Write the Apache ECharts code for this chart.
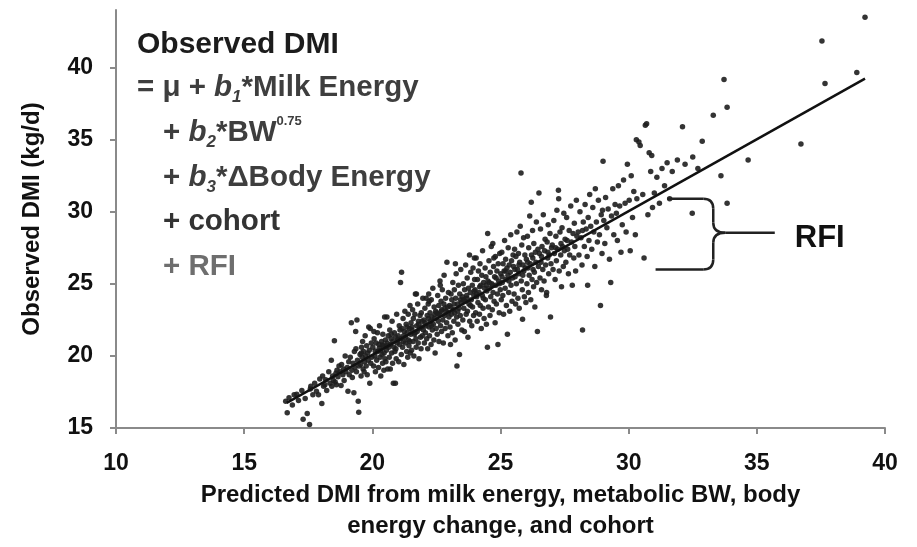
<!DOCTYPE html>
<html>
<head>
<meta charset="utf-8">
<script src="https://cdn.jsdelivr.net/npm/echarts@6/dist/echarts.min.js"></script>
<style>
html,body{margin:0;padding:0;background:#fff;}
#chart{width:917px;height:547px;}
</style>
</head>
<body>
<div id="chart"></div>
<script>
// ---- Data ----
const xTicks = [10, 15, 20, 25, 30, 35, 40];
const yTicks = [15, 20, 25, 30, 35, 40];
const xAxisTitle = 'Predicted DMI from milk energy, metabolic BW, body\nenergy change, and cohort';
const yAxisTitle = 'Observed DMI (kg/d)';
// Regression line end points [predicted, observed]
const fitLine = [[16.66, 16.74], [39.22, 39.24]];
// Each cow: [predicted DMI, observed DMI]
const cowPoints = [
[16.62,16.85],[16.68,16.05],[16.75,17.1],[16.88,16.6],[16.95,17.3],
[17.05,17.35],[17.12,16.9],[17.25,17.6],[17.3,15.6],[17.38,17.05],[17.46,16.0],
[17.55,15.25],[17.6,17.9],[17.68,17.3],[17.75,18.1],[17.82,17.55],[17.9,17.3],[17.95,18.4],[17.58,17.7],
[18.03,16.7],[18.06,18.6],[18.1,17.9],[18.18,18.35],[18.22,17.6],[18.3,18.9],[18.35,18.1],[18.4,19.7],[18.42,17.9],[18.45,18.6],[18.48,18.3],[18.15,18.0],
[18.52,21.05],[18.55,18.2],[18.6,18.0],[18.62,19.0],[18.66,18.55],[18.7,19.3],[18.74,18.9],[18.78,17.95],[18.8,19.4],[18.85,18.7],[18.88,19.1],[18.9,18.3],[18.94,20.0],[18.97,18.9],[18.58,18.8],
[19.02,19.2],[19.05,17.55],[19.08,19.6],[19.1,18.7],[19.14,19.9],[19.18,22.3],[19.2,19.0],[19.22,18.5],[19.25,19.5],[19.28,17.45],[19.3,20.3],[19.32,19.2],[19.35,21.7],[19.36,20.5],[19.38,18.9],[19.4,22.5],[19.42,19.7],[19.45,16.85],[19.47,16.1],[19.48,19.3],
[19.52,20.1],[19.54,19.4],[19.56,18.6],[19.58,20.6],[19.6,19.9],[19.62,21.0],[19.64,19.1],[19.66,20.3],[19.68,18.9],[19.7,19.6],[19.72,21.4],[19.74,20.0],[19.76,19.3],[19.78,20.7],[19.8,18.7],[19.82,20.2],[19.84,19.7],[19.86,22.0],[19.88,20.4],[19.9,18.1],[19.92,21.9],[19.94,19.5],[19.96,20.9],[19.98,19.9],[19.57,20.2],
[20.02,20.6],[20.05,19.3],[20.07,21.2],[20.1,20.0],[20.12,18.9],[20.15,20.9],[20.17,19.7],[20.2,21.6],[20.21,20.3],[20.24,19.2],[20.26,20.8],[20.28,22.1],[20.3,19.9],[20.32,20.4],[20.33,18.6],[20.36,21.0],[20.38,20.1],[20.4,19.5],[20.41,21.5],[20.43,20.7],[20.45,19.0],[20.46,20.2],[20.48,22.7],[20.49,19.8],[20.11,20.35],[20.27,20.55],[20.39,20.75],[20.06,21.7],
[20.51,21.1],[20.53,19.6],[20.55,20.4],[20.57,22.7],[20.58,20.9],[20.6,19.1],[20.62,21.4],[20.64,20.6],[20.66,19.9],[20.68,21.8],[20.7,19.1],[20.71,20.8],[20.73,21.2],[20.75,20.2],[20.77,22.4],[20.79,19.5],[20.8,21.0],[20.82,18.1],[20.84,20.6],[20.86,21.6],[20.88,20.3],[20.9,18.1],[20.91,21.3],[20.93,19.8],[20.95,22.9],[20.97,20.9],[20.99,21.1],[20.56,20.7],[20.74,21.5],[20.92,20.5],
[21.01,21.4],[21.03,19.6],[21.05,22.1],[21.07,20.8],[21.1,25.1],[21.11,21.2],[21.13,20.1],[21.14,25.8],[21.16,21.9],[21.18,20.6],[21.2,22.6],[21.21,21.0],[21.23,19.4],[21.25,21.7],[21.27,23.1],[21.29,20.9],[21.3,21.3],[21.32,22.2],[21.34,20.3],[21.36,21.6],[21.38,19.9],[21.4,22.9],[21.41,21.1],[21.43,20.7],[21.45,21.9],[21.47,23.5],[21.48,20.2],[21.5,21.5],[21.08,21.8],[21.22,21.4],[21.35,22.0],[21.46,21.0],
[21.51,22.3],[21.53,20.4],[21.55,21.8],[21.57,23.2],[21.59,21.0],[21.6,22.6],[21.62,20.0],[21.64,21.5],[21.66,22.9],[21.68,24.3],[21.7,21.2],[21.71,20.6],[21.73,22.1],[21.75,21.7],[21.77,23.6],[21.79,20.9],[21.8,22.4],[21.82,19.8],[21.84,21.9],[21.86,22.8],[21.88,21.3],[21.9,20.5],[21.91,23.0],[21.93,22.0],[21.95,21.4],[21.97,24.0],[21.99,21.8],[21.54,22.0],[21.67,21.6],[21.81,22.2],[21.94,22.4],[21.72,24.3],
[22.01,22.5],[22.03,20.9],[22.05,23.3],[22.07,21.6],[22.09,22.1],[22.1,24.0],[22.12,21.2],[22.14,22.8],[22.16,20.5],[22.18,23.6],[22.2,24.3],[22.21,22.0],[22.23,21.4],[22.25,23.0],[22.27,22.4],[22.29,20.8],[22.3,23.9],[22.32,22.7],[22.34,21.8],[22.36,24.7],[22.38,22.2],[22.4,21.1],[22.41,23.4],[22.43,22.6],[22.45,20.2],[22.47,23.1],[22.49,21.9],[22.06,22.3],[22.19,22.6],[22.31,22.1],[22.44,22.9],[22.22,23.8],
[22.51,23.0],[22.53,21.5],[22.55,24.2],[22.57,22.4],[22.59,23.5],[22.6,21.0],[22.62,22.9],[22.64,25.2],[22.66,22.1],[22.68,23.8],[22.7,21.7],[22.71,23.2],[22.73,24.6],[22.75,22.5],[22.77,20.9],[22.79,23.6],[22.8,25.6],[22.82,22.8],[22.84,21.9],[22.86,24.0],[22.88,23.1],[22.9,22.3],[22.91,26.5],[22.93,23.4],[22.95,21.4],[22.97,24.4],[22.99,22.7],[22.56,22.9],[22.69,23.1],[22.83,23.3],[22.96,23.0],[22.65,24.9],
[23.01,23.5],[23.03,22.0],[23.05,20.8],[23.07,24.3],[23.09,22.9],[23.1,23.9],[23.12,21.6],[23.14,25.1],[23.16,23.2],[23.18,22.4],[23.2,24.6],[23.21,23.0],[23.23,21.1],[23.25,24.0],[23.27,25.7],[23.29,22.7],[23.3,19.3],[23.32,23.6],[23.34,22.2],[23.36,24.9],[23.38,23.3],[23.4,20.1],[23.41,24.3],[23.43,22.8],[23.45,26.0],[23.47,23.7],[23.49,21.8],[23.06,23.4],[23.19,23.6],[23.33,23.1],[23.44,23.9],[23.24,26.4],
[23.51,24.1],[23.53,22.5],[23.55,25.0],[23.57,23.3],[23.59,21.7],[23.6,24.6],[23.62,23.8],[23.64,26.3],[23.66,22.9],[23.68,24.2],[23.7,25.4],[23.71,23.1],[23.73,21.3],[23.75,24.7],[23.77,23.6],[23.79,27.0],[23.8,22.4],[23.82,24.4],[23.84,25.8],[23.86,23.9],[23.88,22.1],[23.9,24.9],[23.91,23.4],[23.93,26.1],[23.95,22.8],[23.97,24.5],[23.99,25.3],[23.56,23.9],[23.69,24.0],[23.83,23.5],[23.96,24.2],[23.98,26.8],
[24.01,24.6],[24.03,23.0],[24.05,26.8],[24.07,24.1],[24.09,22.4],[24.1,25.3],[24.12,23.7],[24.14,25.9],[24.16,24.4],[24.18,22.9],[24.2,26.4],[24.21,23.5],[24.23,24.9],[24.25,21.9],[24.27,25.6],[24.29,24.2],[24.3,27.3],[24.32,23.3],[24.34,25.1],[24.36,22.6],[24.38,24.7],[24.4,26.1],[24.41,23.9],[24.43,25.5],[24.45,22.2],[24.47,24.5],[24.49,20.6],[24.06,24.3],[24.19,24.8],[24.33,24.0],[24.44,24.9],[24.5,28.5],
[24.51,25.2],[24.53,23.4],[24.55,26.6],[24.57,24.7],[24.59,22.8],[24.6,25.8],[24.62,24.1],[24.64,27.6],[24.66,25.0],[24.68,23.2],[24.7,27.8],[24.71,24.4],[24.73,26.2],[24.75,23.8],[24.77,25.5],[24.79,22.3],[24.8,26.9],[24.82,24.9],[24.84,23.6],[24.86,25.9],[24.88,24.3],[24.9,20.8],[24.91,26.4],[24.93,25.2],[24.95,23.0],[24.97,27.1],[24.99,24.6],[24.56,25.1],[24.69,24.9],[24.83,25.4],[24.96,25.0],[24.74,26.8],
[25.01,25.7],[25.03,23.9],[25.05,27.2],[25.07,25.1],[25.09,24.2],[25.1,26.4],[25.12,22.9],[25.14,25.9],[25.16,28.0],[25.18,24.7],[25.2,26.7],[25.21,25.3],[25.23,23.5],[25.25,26.1],[25.27,21.5],[25.29,25.6],[25.3,27.5],[25.32,24.4],[25.34,26.3],[25.36,23.1],[25.38,25.8],[25.4,28.4],[25.41,24.9],[25.43,26.6],[25.45,23.8],[25.47,25.4],[25.49,27.0],[25.06,25.5],[25.19,25.9],[25.33,25.2],
[25.51,26.2],[25.53,24.3],[25.55,27.4],[25.57,25.5],[25.59,23.6],[25.6,26.9],[25.62,25.0],[25.64,28.6],[25.66,26.0],[25.68,24.0],[25.7,27.1],[25.71,25.7],[25.73,23.3],[25.75,26.5],[25.77,29.0],[25.8,32.7],[25.81,25.2],[25.83,27.7],[25.85,24.6],[25.86,22.55],[25.88,26.3],[25.9,28.2],[25.91,25.9],[25.93,24.1],[25.95,27.0],[25.97,26.1],[25.99,23.7],[25.56,26.0],[25.72,26.3],[25.87,25.6],
[26.01,26.7],[26.03,25.0],[26.05,28.3],[26.07,26.1],[26.09,24.4],[26.1,27.5],[26.12,25.6],[26.14,29.7],[26.16,26.4],[26.18,23.9],[26.2,30.66],[26.21,27.0],[26.23,25.3],[26.25,28.7],[26.27,26.0],[26.29,24.8],[26.3,27.8],[26.32,25.8],[26.34,23.4],[26.36,27.2],[26.38,26.5],[26.4,29.3],[26.41,25.1],[26.44,21.7],[26.46,27.4],[26.48,26.2],[26.06,26.5],[26.26,26.8],
[26.5,31.3],[26.52,27.1],[26.54,25.4],[26.56,28.8],[26.58,26.5],[26.6,24.6],[26.62,27.6],[26.65,26.0],[26.67,29.8],[26.7,25.2],[26.72,27.3],[26.74,28.1],[26.76,26.3],[26.79,24.2],[26.8,24.4],[26.82,27.9],[26.84,26.8],[26.86,29.1],[26.88,25.7],[26.9,27.0],[26.93,28.5],[26.95,22.7],[26.97,26.4],[26.99,27.5],[26.6,26.9],[26.85,27.2],
[27.02,27.7],[27.05,26.0],[27.08,29.4],[27.1,27.1],[27.13,25.3],[27.16,28.3],[27.18,26.6],[27.2,30.1],[27.23,27.4],[27.26,31.5],[27.27,30.9],[27.29,25.9],[27.32,28.6],[27.35,27.0],[27.38,24.8],[27.4,28.9],[27.42,27.6],[27.45,26.2],[27.47,29.9],[27.49,27.3],[27.15,27.5],[27.36,27.8],
[27.52,28.1],[27.55,26.5],[27.58,29.6],[27.62,27.4],[27.65,25.7],[27.68,28.7],[27.7,27.0],[27.74,30.4],[27.77,27.9],[27.8,24.9],[27.83,28.5],[27.86,26.8],[27.88,29.2],[27.9,27.6],[27.93,25.9],[27.96,30.8],[27.98,28.3],[27.6,28.0],
[28.03,28.6],[28.06,27.0],[28.1,30.0],[28.14,28.2],[28.18,26.3],[28.2,21.8],[28.23,29.3],[28.27,27.6],[28.3,30.5],[28.34,28.8],[28.38,26.9],[28.4,24.9],[28.42,29.6],[28.45,28.0],[28.48,31.2],[28.2,28.7],
[28.52,29.0],[28.56,27.4],[28.6,30.3],[28.64,28.6],[28.68,26.2],[28.7,31.6],[28.74,29.3],[28.78,27.9],[28.82,30.8],[28.86,28.4],[28.9,23.5],[28.93,29.8],[28.96,27.1],[28.98,30.1],
[29.0,33.5],[29.03,29.4],[29.07,27.8],[29.1,31.0],[29.15,28.9],[29.2,30.2],[29.25,26.7],[29.3,25.1],[29.33,29.7],[29.38,31.6],[29.42,28.4],[29.47,30.5],
[29.52,29.9],[29.56,28.0],[29.6,31.8],[29.65,30.4],[29.7,27.2],[29.75,29.1],[29.8,32.2],[29.86,30.6],[29.9,28.6],[29.95,33.3],
[30.02,30.8],[30.06,27.3],[30.1,32.5],[30.15,29.6],[30.2,31.4],[30.26,28.4],[30.32,30.9],[30.4,34.85],[30.45,34.6],[30.3,35.0],
[30.55,31.2],[30.6,26.8],[30.65,36.0],[30.7,36.1],[30.75,29.8],[30.8,34.1],[30.86,32.8],[30.93,30.3],[30.9,33.9],
[31.0,31.3],[31.1,32.4],[31.2,30.6],[31.3,33.0],[31.4,31.8],[31.5,33.4],[31.6,30.9],[31.7,32.8],[31.9,33.6],[32.1,35.9],[32.2,33.3],[32.48,29.9],[32.5,33.8],[32.7,33.0],[32.87,34.9],
[33.3,36.7],[33.6,32.5],[33.72,39.18],[33.84,37.25],[33.84,30.6],[34.66,33.6],
[36.72,34.7],[37.54,41.85],[37.66,38.9],[38.9,39.66],[39.22,43.5]
];

// ---- Chart ----
const FONT = 'Arial, "Liberation Sans", Helvetica, sans-serif';
const chart = echarts.init(document.getElementById('chart'), null, {renderer: 'canvas'});

chart.setOption({
  backgroundColor: '#ffffff',
  animation: false,
  grid: {left: 116, right: 32, top: 10, bottom: 115, containLabel: false},
  xAxis: {
    type: 'value', min: 10, max: 40, interval: 5,
    splitLine: {show: false},
    axisLine: {show: true, lineStyle: {color: '#8a8a8a', width: 2}},
    axisTick: {show: true, length: 6, lineStyle: {color: '#8a8a8a', width: 2}, customValues: xTicks},
    axisLabel: {color: '#111', fontFamily: FONT, fontWeight: 'bold', fontSize: 23, margin: 24,
                customValues: xTicks},
    name: xAxisTitle, nameLocation: 'middle', nameGap: 52,
    nameTextStyle: {color: '#111', fontFamily: FONT, fontWeight: 'bold', fontSize: 24, lineHeight: 31}
  },
  yAxis: {
    type: 'value', min: 15, max: 44, interval: 5,
    splitLine: {show: false},
    axisLine: {show: true, lineStyle: {color: '#8a8a8a', width: 2}},
    axisTick: {show: true, length: 6, lineStyle: {color: '#8a8a8a', width: 2}, customValues: yTicks},
    axisLabel: {color: '#111', fontFamily: FONT, fontWeight: 'bold', fontSize: 23, margin: 23,
                customValues: yTicks},
    name: yAxisTitle, nameLocation: 'middle', nameGap: 72, nameRotate: 90,
    nameTextStyle: {color: '#111', fontFamily: FONT, fontWeight: 'bold', fontSize: 24}
  },
  series: [
    {
      type: 'scatter', data: cowPoints, symbol: 'circle', symbolSize: 5.5,
      itemStyle: {color: '#1e1e1e', opacity: 0.9}, z: 2
    },
    {
      type: 'line', data: fitLine, symbol: 'none',
      lineStyle: {color: '#111', width: 2.5}, z: 3
    }
  ]
});

// ---- Annotations ----
const EQ = 29.5;
const eqRich = {
  t: {fontFamily: FONT, fontWeight: 'bold', fontSize: EQ, lineHeight: 36},
  i: {fontFamily: FONT, fontWeight: 'bold', fontStyle: 'italic', fontSize: EQ, lineHeight: 36},
  s: {fontFamily: FONT, fontWeight: 'bold', fontStyle: 'italic', fontSize: 17, lineHeight: 17, verticalAlign: 'bottom'},
  p: {fontFamily: FONT, fontWeight: 'bold', fontSize: 13, lineHeight: 13, verticalAlign: 'top'}
};
function eqText(left, cy, text, color) {
  return {
    type: 'text', x: left, y: cy, z: 10,
    style: {text: text, rich: eqRich, fill: color, fontFamily: FONT, fontWeight: 'bold', fontSize: EQ,
            align: 'left', verticalAlign: 'middle'}
  };
}
function px(x, y) { return chart.convertToPixel({gridIndex: 0}, [x, y]); }
const bTop = px(31.5, 30.9), bMid = px(33.3, 28.55), bTip = px(35.7, 28.55), bBot = px(31.05, 26.0);
const xv = bMid[0];
const braceStyle = {stroke: '#222', lineWidth: 2.5, fill: 'none'};
function seg(x1, y1, x2, y2) { return {type: 'line', z: 10, shape: {x1, y1, x2, y2}, style: braceStyle}; }
function curve(x1, y1, cx, cy, x2, y2) {
  return {type: 'bezierCurve', z: 10, shape: {x1, y1, x2, y2, cpx1: cx, cpy1: cy}, style: braceStyle};
}

chart.setOption({
  graphic: [
    {type: 'text', x: 137, y: 45, z: 10,
     style: {text: 'Observed DMI', fill: '#1c1c1c', fontFamily: FONT, fontWeight: 'bold', fontSize: 30,
             align: 'left', verticalAlign: 'middle'}},
    eqText(137, 88, '{t|= μ + }{i|b}{s|1}{t|*Milk Energy}', '#3e3e3e'),
    eqText(163, 133, '{t|+ }{i|b}{s|2}{t|*BW}{p|0.75}', '#3e3e3e'),
    eqText(163, 178, '{t|+ }{i|b}{s|3}{t|*ΔBody Energy}', '#3e3e3e'),
    eqText(163, 222, '{t|+ cohort}', '#333333'),
    eqText(163, 267, '{t|+ RFI}', '#6e6e6e'),
    seg(bTop[0], bTop[1], xv - 10, bTop[1]),
    curve(xv - 10, bTop[1], xv, bTop[1], xv, bTop[1] + 10),
    seg(xv, bTop[1] + 10, xv, bMid[1] - 10),
    curve(xv, bMid[1] - 10, xv, bMid[1], xv + 12, bMid[1]),
    seg(xv + 12, bMid[1], bTip[0], bMid[1]),
    curve(xv + 12, bMid[1], xv, bMid[1], xv, bMid[1] + 10),
    seg(xv, bMid[1] + 10, xv, bBot[1] - 10),
    curve(xv, bBot[1] - 10, xv, bBot[1], xv - 10, bBot[1]),
    seg(xv - 10, bBot[1], bBot[0], bBot[1]),
    {type: 'text', z: 10, x: bTip[0] + 20, y: bMid[1] + 6,
     style: {text: 'RFI', fill: '#111', fontFamily: FONT, fontWeight: 'bold', fontSize: 31,
             align: 'left', verticalAlign: 'middle'}}
  ]
});
</script>
</body>
</html>
